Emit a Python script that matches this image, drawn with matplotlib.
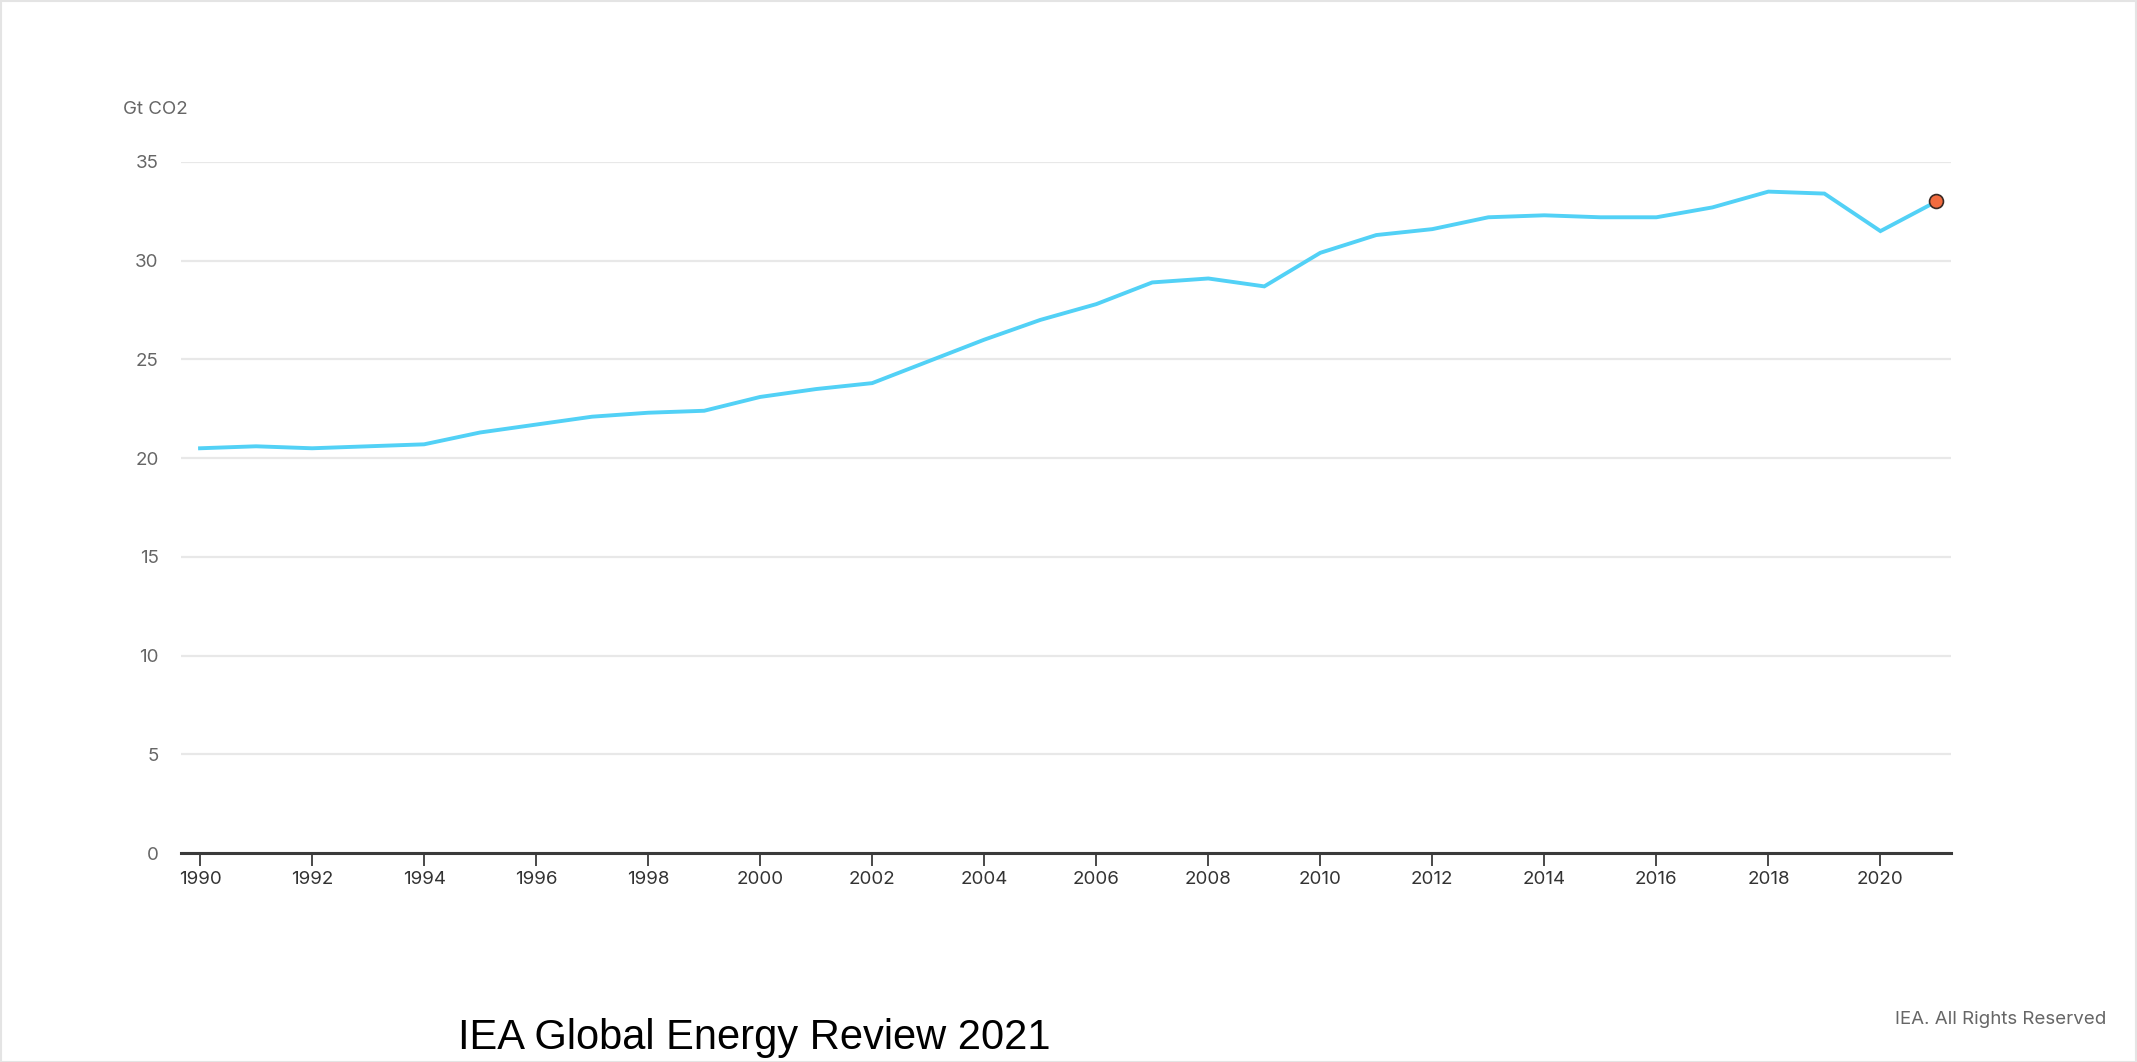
import matplotlib
matplotlib.use("Agg")
import matplotlib.pyplot as plt
from matplotlib.patches import Rectangle

years = list(range(1990, 2022))
emissions = [20.5, 20.6, 20.5, 20.6, 20.7, 21.3, 21.7, 22.1, 22.3, 22.4,
             23.1, 23.5, 23.8, 24.9, 26.0, 27.0, 27.8, 28.9, 29.1, 28.7,
             30.4, 31.3, 31.6, 32.2, 32.3, 32.2, 32.2, 32.7, 33.5, 33.4,
             31.5, 33.0]
x_ticks = list(range(1990, 2021, 2))
y_ticks = [0, 5, 10, 15, 20, 25, 30, 35]
unit_label = "Gt CO2"
title = "IEA Global Energy Review 2021"
credit = "IEA. All Rights Reserved"

W, H = 2137, 1062
fig = plt.figure(figsize=(W / 100, H / 100), dpi=100)
fig.patch.set_facecolor("white")

ax = fig.add_axes([181 / W, 1 - 853 / H, (1951 - 181) / W, (853 - 162) / H])
ax.set_xlim(1989.66, 2021.26)
ax.set_ylim(0, 35)

ax.set_yticks(y_ticks)
ax.grid(axis="y", color="#e8e8e8", linewidth=1.6, zorder=0)
ax.set_axisbelow(True)

for s in ["top", "right", "left"]:
    ax.spines[s].set_visible(False)
ax.spines["bottom"].set_color("#3a3a3a")
ax.spines["bottom"].set_linewidth(2.2)
ax.spines["bottom"].set_zorder(3)

ax.set_xticks(x_ticks)
ax.set_xticklabels([str(y) for y in x_ticks])
ax.tick_params(axis="x", direction="out", length=9, width=1.3, color="#3a3a3a",
               labelsize=13.5, labelcolor="#333333", pad=4)
ax.tick_params(axis="y", length=0, labelsize=13.5, labelcolor="#666666", pad=16)
for lab in ax.get_xticklabels() + ax.get_yticklabels():
    lab.set_family(["Inter", "DejaVu Sans"])

ax.plot(years, emissions, color="#52d1f6", linewidth=2.8, zorder=4,
        solid_joinstyle="miter", clip_on=False)
ax.plot([years[-1]], [emissions[-1]], marker="o", markersize=10,
        markerfacecolor="#f26b3f", markeredgecolor="#3a2a25",
        markeredgewidth=1.2, zorder=5, clip_on=False)

fig.text(123 / W, 1 - 109 / H, unit_label, fontsize=13.5, color="#666666",
         family=["Inter", "DejaVu Sans"], ha="left", va="center")
fig.text(2106 / W, 1 - 1019 / H, credit, fontsize=13.5, color="#666666",
         family=["Inter", "DejaVu Sans"], ha="right", va="center")
fig.text(754 / W, 4 / H, title, fontsize=30, color="black",
         family=["Liberation Sans", "DejaVu Sans"], ha="center", va="bottom")

fig.patches.append(Rectangle((0.5 / W, 0.5 / H), 1 - 1.5 / W, 1 - 1.5 / H,
                             transform=fig.transFigure, fill=False,
                             edgecolor="#e4e4e4", linewidth=1.5))

fig.savefig("out.png", dpi=100)
